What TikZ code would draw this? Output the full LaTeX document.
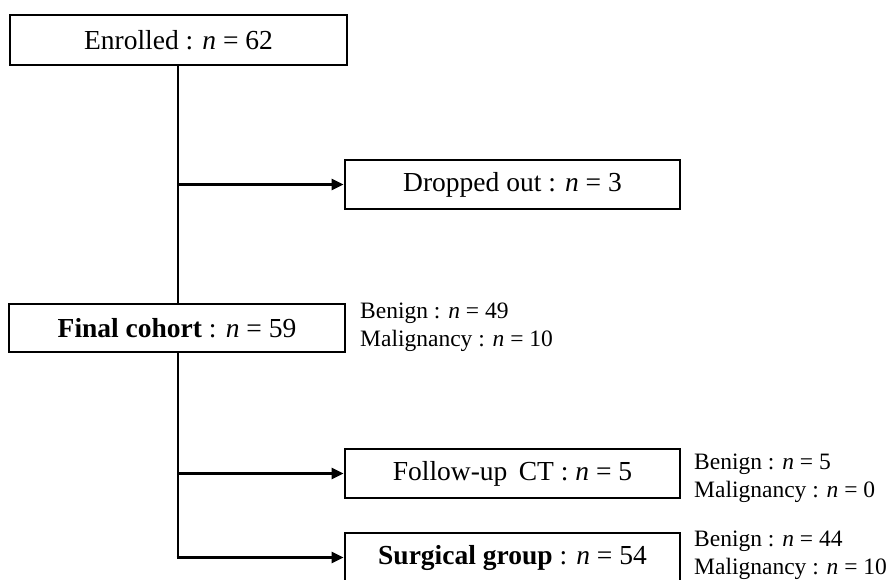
\documentclass[tikz,border=0pt]{standalone}
\usepackage{fontspec}
\setmainfont{Liberation Serif}
\usetikzlibrary{arrows.meta}
\tikzset{
  box/.style={draw=black, line width=2.8pt, fill=white, inner sep=0pt, font=\fontsize{27.5}{32}\selectfont},
  lbl/.style={anchor=west, align=left, inner sep=0pt, font=\fontsize{23.5}{28}\selectfont},
  conn/.style={line width=2.8pt},
  arr/.style={conn, -{Triangle[length=12pt,width=11pt]}}
}
\begin{document}
\begin{tikzpicture}[x=1pt,y=1pt]
\useasboundingbox (0,0) rectangle (892,-579);
\node[box, minimum width=337pt, minimum height=50pt] (enr) at (178.5,-40) {Enrolled : \textit{n} = 62};
\node[box, minimum width=335pt, minimum height=49pt] (drop) at (512.5,-184.5) {Dropped out : \textit{n} = 3};
\node[box, minimum width=336pt, minimum height=48pt] (fin) at (177,-328) {\textbf{Final cohort} : \textit{n} = 59};
\node[box, minimum width=335pt, minimum height=49pt] (fu) at (512.5,-473.5) {Follow-up\, CT : \textit{n} = 5};
\node[box, minimum width=335pt, minimum height=49pt] (surg) at (512.5,-557.5) {\textbf{Surgical group} : \textit{n} = 54};
\node[lbl] (l1) at (360,-327) {Benign : \textit{n} = 49\\Malignancy : \textit{n} = 10};
\node[lbl] (l2) at (694,-478) {Benign : \textit{n} = 5\\Malignancy : \textit{n} = 0};
\node[lbl] (l3) at (694,-555) {Benign : \textit{n} = 44\\Malignancy : \textit{n} = 10};
\coordinate (t1) at (178,-40);
\draw[conn] (t1 |- enr.south) -- (t1 |- fin.north);
\draw[arr] (t1 |- drop.west) -- (drop.west);
\draw[conn] (t1 |- fin.south) -- (t1 |- surg.west);
\draw[arr] (t1 |- fu.west) -- (fu.west);
\draw[arr] ([xshift=-1.4pt]t1 |- surg.west) -- (surg.west);
\end{tikzpicture}
\end{document}
